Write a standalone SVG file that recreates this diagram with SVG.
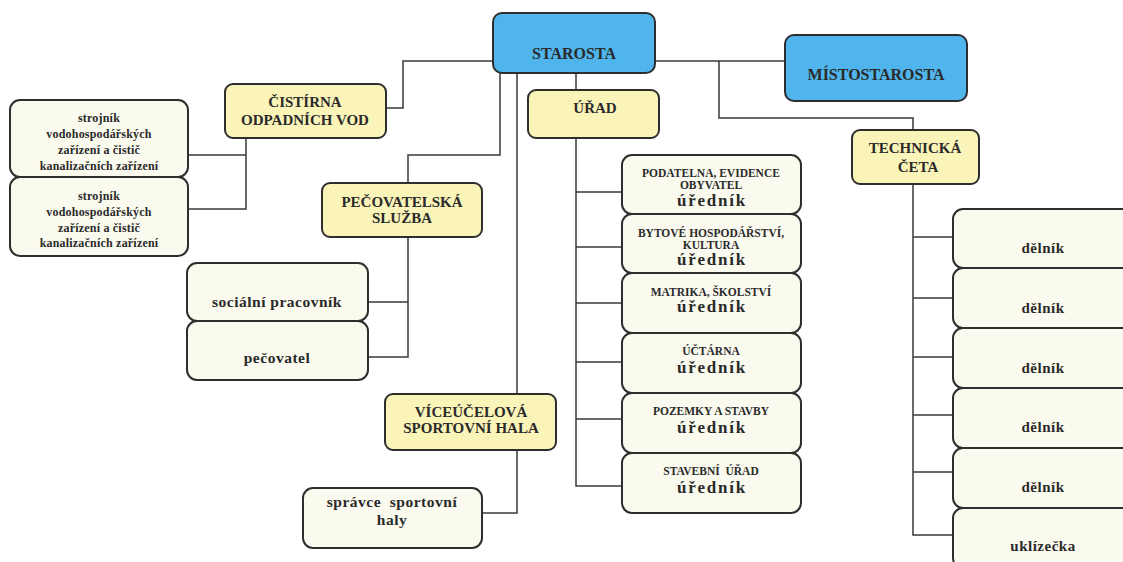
<svg xmlns="http://www.w3.org/2000/svg" width="1123" height="562" viewBox="0 0 1123 562">
<style>
.bx{stroke:#2e2e2e;stroke-width:2}
.blue{fill:#4fb5ec}
.yel{fill:#fbf4b8}
.crm{fill:#fbfaef}
.ln{fill:none;stroke:#3a3a3a;stroke-width:1.5}
text{font-family:'Liberation Serif','Times New Roman','DejaVu Serif',serif;font-weight:bold;fill:#2a2a2a;text-anchor:middle}
.big{font-size:16px}
.hd{font-size:15px}
.sm{font-size:11.5px}
.ur{font-size:17px;letter-spacing:1.8px}
.st{font-size:12px;letter-spacing:0.2px}
.md{font-size:15.5px;letter-spacing:0.5px}
.dl{font-size:15px;letter-spacing:0.5px}
</style>
<rect width="1123" height="562" fill="#ffffff"/>
<g id="connectors">
<path class="ln" d="M493,61 H403 V108 H386"/>
<path class="ln" d="M500,73 V155 H408 V183"/>
<path class="ln" d="M517,73 V394"/>
<path class="ln" d="M576,73 V90"/>
<path class="ln" d="M655,61 H785"/>
<path class="ln" d="M719,61 V118 H913 V130"/>
<path class="ln" d="M246,138 V209 H188 M246,155 H188"/>
<path class="ln" d="M408,237 V357 H368 M408,302 H368"/>
<path class="ln" d="M517,450 V513 H482"/>
<path class="ln" d="M576,138 V486 H622 M576,192 H622 M576,247 H622 M576,303 H622 M576,362 H622 M576,419 H622"/>
<path class="ln" d="M913,184 V535 H953 M913,237 H953 M913,298 H953 M913,357 H953 M913,415 H953 M913,472 H953"/>
</g>
<g id="starosta"><rect class="bx blue" x="493" y="13" width="162" height="60" rx="9"/><text class="big" x="574" y="59">STAROSTA</text></g>
<g id="mistostarosta"><rect class="bx blue" x="785" y="35" width="182" height="66" rx="9"/><text class="big" x="876" y="80">MÍSTOSTAROSTA</text></g>
<g id="urad"><rect class="bx yel" x="528" y="90" width="131" height="48" rx="8"/><text class="hd" x="595" y="113">ÚŘAD</text></g>
<g id="cistirna"><rect class="bx yel" x="225" y="84" width="161" height="54" rx="8"/><text class="hd" x="305" y="107">ČISTÍRNA</text><text class="hd" x="305" y="125">ODPADNÍCH VOD</text></g>
<g id="pecovatelska"><rect class="bx yel" x="322" y="183" width="160" height="54" rx="8"/><text class="hd" x="402" y="207">PEČOVATELSKÁ</text><text class="hd" x="402" y="223">SLUŽBA</text></g>
<g id="viceucelova"><rect class="bx yel" x="385" y="394" width="171" height="56" rx="8"/><text class="hd" x="471" y="417">VÍCEÚČELOVÁ</text><text class="hd" x="471" y="433">SPORTOVNÍ HALA</text></g>
<g id="technicka"><rect class="bx yel" x="852" y="130" width="127" height="54" rx="8"/><text class="hd" x="915" y="153">TECHNICKÁ</text><text class="hd" x="918" y="172">ČETA</text></g>
<g id="strojnik1"><rect class="bx crm" x="10" y="100" width="178" height="77" rx="10"/><text class="st" x="99" y="122">strojník</text><text class="st" x="99" y="138">vodohospodářských</text><text class="st" x="99" y="154">zařízení a čistič</text><text class="st" x="99" y="170">kanalizačních zařízení</text></g>
<g id="strojnik2"><rect class="bx crm" x="10" y="177" width="178" height="79" rx="10"/><text class="st" x="99" y="200">strojník</text><text class="st" x="99" y="216">vodohospodářských</text><text class="st" x="99" y="232">zařízení a čistič</text><text class="st" x="99" y="247">kanalizačních zařízení</text></g>
<g id="socialni"><rect class="bx crm" x="187" y="263" width="181" height="58" rx="10"/><text class="md" x="277" y="307">sociální pracovník</text></g>
<g id="pecovatel"><rect class="bx crm" x="187" y="321" width="181" height="59" rx="10"/><text class="md" x="277" y="363">pečovatel</text></g>
<g id="spravce"><rect class="bx crm" x="303" y="488" width="179" height="60" rx="10"/><text class="md" x="392" y="507" xml:space="preserve">správce  sportovní</text><text class="md" x="392" y="525">haly</text></g>
<g id="u1"><rect class="bx crm" x="622" y="155" width="179" height="59" rx="10"/><text class="sm" x="711" y="177">PODATELNA, EVIDENCE</text><text class="sm" x="711" y="189">OBYVATEL</text><text class="ur" x="712" y="206">úředník</text></g>
<g id="u2"><rect class="bx crm" x="622" y="214" width="179" height="59" rx="10"/><text class="sm" x="711" y="237">BYTOVÉ HOSPODÁŘSTVÍ,</text><text class="sm" x="711" y="249">KULTURA</text><text class="ur" x="712" y="265">úředník</text></g>
<g id="u3"><rect class="bx crm" x="622" y="273" width="179" height="60" rx="10"/><text class="sm" x="711" y="296">MATRIKA, ŠKOLSTVÍ</text><text class="ur" x="712" y="312">úředník</text></g>
<g id="u4"><rect class="bx crm" x="622" y="333" width="179" height="60" rx="10"/><text class="sm" x="711" y="355">ÚČTÁRNA</text><text class="ur" x="712" y="373">úředník</text></g>
<g id="u5"><rect class="bx crm" x="622" y="393" width="179" height="60" rx="10"/><text class="sm" x="711" y="415">POZEMKY A STAVBY</text><text class="ur" x="712" y="433">úředník</text></g>
<g id="u6"><rect class="bx crm" x="622" y="453" width="179" height="60" rx="10"/><text class="sm" x="711" y="475" xml:space="preserve">STAVEBNÍ  ÚŘAD</text><text class="ur" x="712" y="493">úředník</text></g>
<g id="d1"><rect class="bx crm" x="953" y="209" width="200" height="59" rx="10"/><text class="dl" x="1043" y="253">dělník</text></g>
<g id="d2"><rect class="bx crm" x="953" y="268" width="200" height="60" rx="10"/><text class="dl" x="1043" y="313">dělník</text></g>
<g id="d3"><rect class="bx crm" x="953" y="328" width="200" height="60" rx="10"/><text class="dl" x="1043" y="373">dělník</text></g>
<g id="d4"><rect class="bx crm" x="953" y="388" width="200" height="60" rx="10"/><text class="dl" x="1043" y="432">dělník</text></g>
<g id="d5"><rect class="bx crm" x="953" y="448" width="200" height="60" rx="10"/><text class="dl" x="1043" y="492">dělník</text></g>
<g id="d6"><rect class="bx crm" x="953" y="508" width="200" height="60" rx="10"/><text class="dl" x="1043" y="551">uklízečka</text></g>
</svg>
